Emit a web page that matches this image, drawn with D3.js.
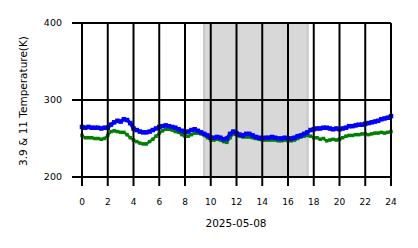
<!DOCTYPE html>
<html>
<head>
<meta charset="utf-8">
<script src="https://cdn.jsdelivr.net/npm/d3@7"></script>
<style>
  body { margin: 0; background: #fff; }
  svg { display: block; font-family: "DejaVu Sans", sans-serif; }
</style>
</head>
<body>
<div id="chart"></div>
<script>
// hours of the day (every 15 min)
var hours = d3.range(0, 24.01, 0.25);

// 3.9 um brightness temperature (K)
var t39 = [
  265, 264, 265, 264, 264, 264, 263, 264, 264, 268, 271, 273, 272, 275, 274, 270,
  263, 261, 259, 258, 258, 259, 261, 263, 265, 266, 267, 266, 265, 264, 262, 260,
  258, 259, 261, 262, 260, 258, 256, 254, 251, 251, 252, 251, 249, 250, 256, 259,
  257, 255, 254, 256, 256, 254, 252, 251, 250, 251, 251, 252, 251, 250, 250, 251,
  250, 250, 251, 253, 254, 256, 258, 261, 262, 263, 263, 264, 264, 263, 262, 263,
  262, 263, 264, 266, 266, 267, 268, 268, 269, 270, 271, 272, 273, 275, 276, 277,
  279
];

// 11 um brightness temperature (K)
var t11 = [
  254, 251, 251, 251, 250, 250, 249, 250, 254, 259, 260, 259, 258, 258, 255, 251,
  248, 246, 244, 243, 243, 246, 249, 253, 257, 260, 262, 262, 261, 259, 258, 255,
  253, 253, 255, 257, 257, 256, 254, 251, 248, 248, 249, 248, 246, 245, 251, 256,
  255, 253, 252, 252, 252, 251, 250, 249, 248, 248, 248, 248, 248, 247, 247, 248,
  247, 247, 248, 250, 252, 253, 254, 253, 251, 251, 249, 250, 247, 248, 249, 248,
  249, 251, 253, 254, 254, 255, 255, 256, 256, 255, 256, 257, 257, 258, 257, 258,
  259
];

var xTicks = d3.range(0, 25, 2);
var yTicks = [200, 300, 400];
var nightSpan = [9.4, 17.6];

var W = 418, H = 248;
var x = d3.scaleLinear().domain([0, 24]).range([82, 391]);
var y = d3.scaleLinear().domain([200, 400]).range([177, 23]);

var svg = d3.select("#chart").append("svg")
  .attr("width", W)
  .attr("height", H);

// shaded span
svg.append("rect")
  .attr("x", x(nightSpan[0]))
  .attr("y", y(400))
  .attr("width", x(nightSpan[1]) - x(nightSpan[0]))
  .attr("height", y(200) - y(400))
  .attr("fill", "#d8d8d8");
nightSpan.forEach(function(h, i) {
  svg.append("rect")
    .attr("x", i == 0 ? x(h) : x(h) - 2)
    .attr("y", y(400))
    .attr("width", 2)
    .attr("height", y(200) - y(400))
    .attr("fill", "#c9c9c9");
});

function drawSeries(vals, color, lw, ms) {
  var pts = hours.map(function(h, i) { return [h, vals[i]]; });
  svg.append("path")
    .datum(pts)
    .attr("fill", "none")
    .attr("stroke", color)
    .attr("stroke-width", lw)
    .attr("d", d3.line().x(d => x(d[0])).y(d => y(d[1])));
  svg.append("g").selectAll("rect")
    .data(pts)
    .enter()
    .append("rect")
    .attr("x", d => x(d[0]) - ms / 2)
    .attr("y", d => y(d[1]) - ms / 2)
    .attr("width", ms)
    .attr("height", ms)
    .attr("fill", color);
}

drawSeries(t11, "#008000", 2.5, 3.5);
drawSeries(t39, "#0000ff", 3.5, 4.5);

// grid on top
var grid = svg.append("g").attr("stroke", "#000").attr("stroke-width", 2);
grid.selectAll(".vg")
  .data(xTicks)
  .enter()
  .append("line")
  .attr("x1", d => x(d)).attr("x2", d => x(d))
  .attr("y1", y(400)).attr("y2", y(200) + 9);
grid.selectAll(".hg")
  .data(yTicks)
  .enter()
  .append("line")
  .attr("x1", x(0) - 10).attr("x2", x(24))
  .attr("y1", d => y(d)).attr("y2", d => y(d));

// tick labels
svg.append("g").selectAll("text")
  .data(xTicks)
  .enter()
  .append("text")
  .attr("x", d => x(d))
  .attr("y", 205)
  .attr("text-anchor", "middle")
  .attr("font-size", 9)
  .text(d => d);

svg.append("g").selectAll("text")
  .data(yTicks)
  .enter()
  .append("text")
  .attr("x", 62)
  .attr("y", d => y(d) + 3.4)
  .attr("text-anchor", "end")
  .attr("font-size", 9.5)
  .text(d => d);

svg.append("text")
  .attr("x", 236)
  .attr("y", 227)
  .attr("text-anchor", "middle")
  .attr("font-size", 10.5)
  .text("2025-05-08");

svg.append("text")
  .attr("transform", "translate(27,101) rotate(-90)")
  .attr("text-anchor", "middle")
  .attr("font-size", 10.5)
  .text("3.9 & 11 Temperature(K)");
</script>
</body>
</html>
